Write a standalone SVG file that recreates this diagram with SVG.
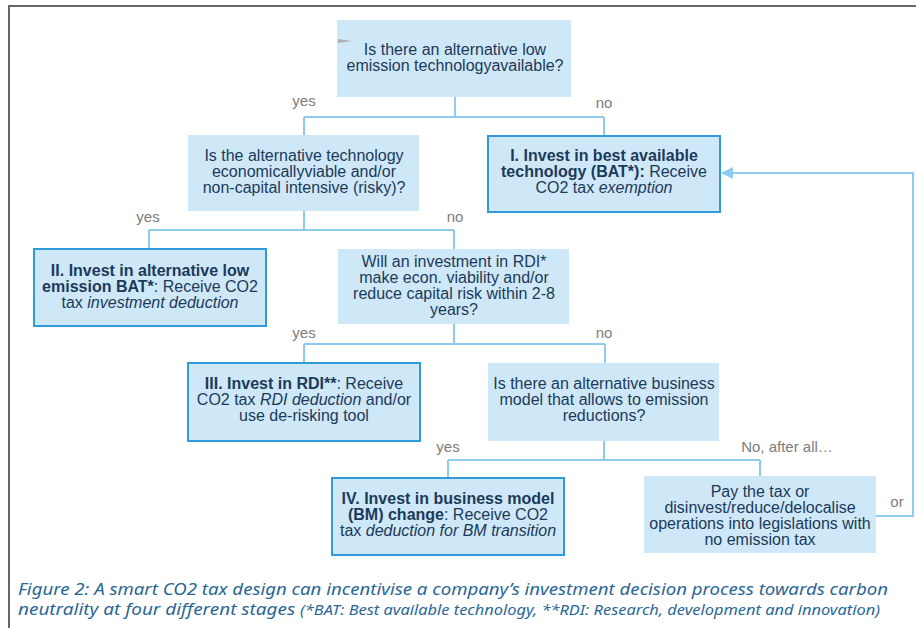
<svg xmlns="http://www.w3.org/2000/svg" width="916" height="628" viewBox="0 0 916 628">
<defs>
<style>
.box{fill:#cfe8f7;}
.bb{fill:#cfe8f7;stroke:#2f9bd9;stroke-width:2;}
.t{font-family:"Liberation Sans",Arial,sans-serif;font-size:16px;fill:#1b3a5a;text-anchor:middle;}
.b{font-weight:bold;}
.i{font-style:italic;}
.lbl{font-family:"Liberation Sans",Arial,sans-serif;font-size:15px;fill:#7d7d7d;text-anchor:middle;}
.c{fill:none;stroke:#8ecbee;stroke-width:2;}
.cap{font-family:"Noto Sans","DejaVu Sans",sans-serif;font-style:italic;fill:#2a6797;}
</style>
<marker id="ah" markerWidth="12" markerHeight="12" refX="11" refY="6" orient="auto" markerUnits="userSpaceOnUse">
<path d="M0,0 L12,6 L0,12 Z" fill="#8ecbee"/>
</marker>
</defs>
<rect x="0" y="0" width="916" height="628" fill="#ffffff"/>
<g id="frame">
<line x1="9" y1="6" x2="9" y2="628" stroke="#666666" stroke-width="2"/>
<line x1="8" y1="6" x2="916" y2="6" stroke="#666666" stroke-width="2"/>
</g>
<g id="connectors">
<path class="c" d="M455,97 V117 M304,117 H604 M304,117 V135 M604,117 V136"/>
<path class="c" d="M304,211 V230 M149,230 H454 M149,230 V249 M454,230 V249"/>
<path class="c" d="M454,324 V344 M304,344 H605 M304,344 V363 M605,344 V363"/>
<path class="c" d="M604,441 V460 M448,460 H760 M448,460 V478 M760,460 V476"/>
<path class="c" d="M876,516 H913 V173 H722" marker-end="url(#ah)"/>
</g>
<g id="labels">
<text class="lbl" x="304" y="106">yes</text>
<text class="lbl" x="604" y="108">no</text>
<text class="lbl" x="148" y="222">yes</text>
<text class="lbl" x="455" y="222">no</text>
<text class="lbl" x="304" y="338">yes</text>
<text class="lbl" x="604" y="338">no</text>
<text class="lbl" x="448" y="452">yes</text>
<text class="lbl" x="787" y="452">No, after all…</text>
<text class="lbl" x="897" y="507">or</text>
</g>
<g id="q1">
<rect class="box" x="337" y="20" width="234" height="77"/>
<polygon points="338,39 352,41 338,43" fill="#b0b0b0"/>
<text class="t" x="455" y="55">Is there an alternative low</text>
<text class="t" x="455" y="71">emission technologyavailable?</text>
</g>
<g id="q2">
<rect class="box" x="188" y="135" width="231" height="76"/>
<text class="t" x="304" y="161">Is the alternative technology</text>
<text class="t" x="304" y="177">economicallyviable and/or</text>
<text class="t" x="304" y="193">non-capital intensive (risky)?</text>
</g>
<g id="outcome1">
<rect class="bb" x="488" y="136" width="232" height="76"/>
<text class="t" x="604" y="161"><tspan class="b">I. Invest in best available</tspan></text>
<text class="t" x="604" y="177"><tspan class="b">technology (BAT*):</tspan> Receive</text>
<text class="t" x="604" y="193">CO2 tax <tspan class="i">exemption</tspan></text>
</g>
<g id="outcome2">
<rect class="bb" x="34" y="249" width="232" height="77"/>
<text class="t" x="150" y="276"><tspan class="b">II. Invest in alternative low</tspan></text>
<text class="t" x="150" y="292"><tspan class="b">emission BAT*</tspan>: Receive CO2</text>
<text class="t" x="150" y="308">tax <tspan class="i">investment deduction</tspan></text>
</g>
<g id="q3">
<rect class="box" x="338" y="249" width="231" height="75"/>
<text class="t" x="454" y="267">Will an investment in RDI*</text>
<text class="t" x="454" y="283">make econ. viability and/or</text>
<text class="t" x="454" y="299">reduce capital risk within 2-8</text>
<text class="t" x="454" y="315">years?</text>
</g>
<g id="outcome3">
<rect class="bb" x="188" y="363" width="232" height="78"/>
<text class="t" x="304" y="389"><tspan class="b">III. Invest in RDI**</tspan>: Receive</text>
<text class="t" x="304" y="405">CO2 tax <tspan class="i">RDI deduction</tspan> and/or</text>
<text class="t" x="304" y="421">use de-risking tool</text>
</g>
<g id="q4">
<rect class="box" x="488" y="363" width="231" height="78"/>
<text class="t" x="604" y="389">Is there an alternative business</text>
<text class="t" x="604" y="405">model that allows to emission</text>
<text class="t" x="604" y="421">reductions?</text>
</g>
<g id="outcome4">
<rect class="bb" x="332" y="478" width="232" height="77"/>
<text class="t" x="448" y="504"><tspan class="b">IV. Invest in business model</tspan></text>
<text class="t" x="448" y="520"><tspan class="b">(BM) change</tspan>: Receive CO2</text>
<text class="t" x="448" y="536">tax <tspan class="i">deduction for BM transition</tspan></text>
</g>
<g id="pay">
<rect class="box" x="644" y="476" width="232" height="77"/>
<text class="t" x="760" y="497">Pay the tax or</text>
<text class="t" x="760" y="513">disinvest/reduce/delocalise</text>
<text class="t" x="760" y="529">operations into legislations with</text>
<text class="t" x="760" y="545">no emission tax</text>
</g>
<g id="caption">
<text class="cap" x="18" y="595" font-size="15.5" textLength="870" lengthAdjust="spacingAndGlyphs">Figure 2: A smart CO2 tax design can incentivise a company’s investment decision process towards carbon</text>
<text class="cap" x="18" y="615" font-size="15.5"><tspan textLength="282" lengthAdjust="spacingAndGlyphs">neutrality at four different stages </tspan><tspan font-size="13.5" textLength="580" lengthAdjust="spacingAndGlyphs">(*BAT: Best available technology, **RDI: Research, development and innovation)</tspan></text>
</g>
</svg>
